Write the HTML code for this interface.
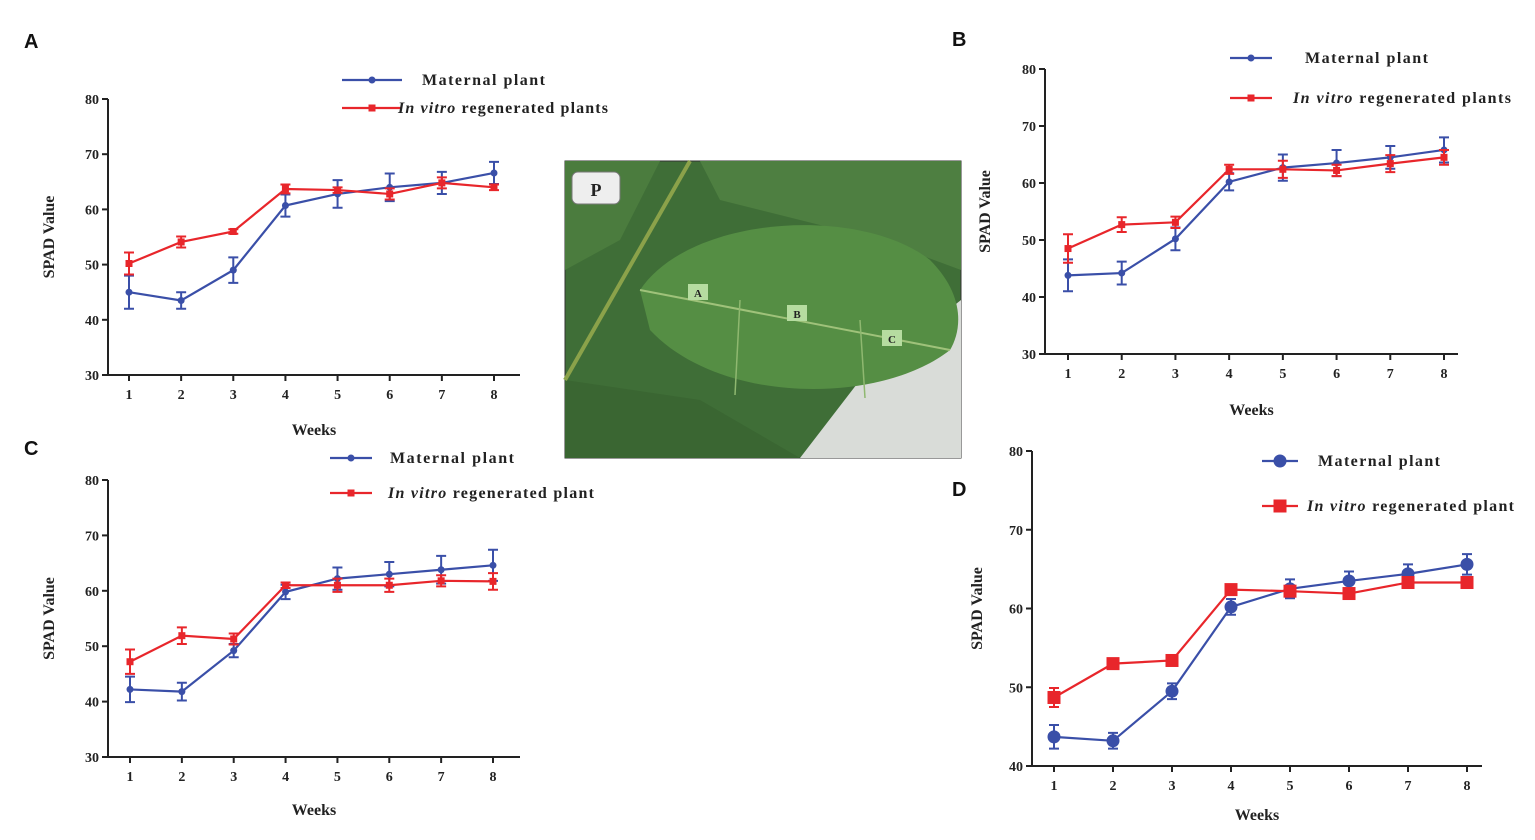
<!DOCTYPE html>
<html><head><meta charset="utf-8"><style>
html,body{margin:0;padding:0;background:#fff;width:1535px;height:840px;overflow:hidden}
svg{display:block}
.t{font-family:"Liberation Serif",serif;font-weight:bold;fill:#222}
.p{font-family:"Liberation Sans",sans-serif;font-weight:bold;font-size:20px;fill:#111}
</style></head><body>
<svg id="fig" width="1535" height="840">
<text class="p" x="24" y="48">A</text>
<text class="p" x="952" y="46">B</text>
<text class="p" x="24" y="455">C</text>
<text class="p" x="952" y="496">D</text>
<g>
<rect x="565" y="161" width="396" height="297" fill="#3f6e37" stroke="#333"/>
<path d="M860 380 L961 300 L961 458 L800 458Z" fill="#d9dcd8"/>
<path d="M700 161 L961 161 L961 270 L880 240 L720 200Z" fill="#4e7f41"/>
<path d="M565 380 L700 400 L800 458 L565 458Z" fill="#3a6632"/>
<path d="M565 161 L660 161 L620 240 L565 270Z" fill="#4b7c3e"/>
<path d="M640 290 C690 215 860 205 930 260 C965 295 962 330 950 350 C880 405 720 405 650 330 Z" fill="#558e44"/>
<path d="M640 290 L950 350" stroke="#9fc27a" stroke-width="2" fill="none"/>
<path d="M740 300 L735 395 M860 320 L865 398" stroke="#8fb870" stroke-width="1.5" fill="none"/>
<path d="M690 161 L565 380" stroke="#8ba24a" stroke-width="4"/>
<rect x="572" y="172" width="48" height="32" rx="6" fill="#eee" stroke="#777"/>
<text x="596" y="196" text-anchor="middle" class="t" font-size="18">P</text>
<rect x="688" y="284" width="20" height="16" fill="#b6dca0"/><text x="698" y="297" text-anchor="middle" class="t" font-size="11">A</text>
<rect x="787" y="305" width="20" height="16" fill="#b6dca0"/><text x="797" y="318" text-anchor="middle" class="t" font-size="11">B</text>
<rect x="882" y="330" width="20" height="16" fill="#b6dca0"/><text x="892" y="343" text-anchor="middle" class="t" font-size="11">C</text>
</g>
</svg>
<script>
const weeks=[1,2,3,4,5,6,7,8];
const aMat=[45,43.5,49,60.7,62.8,64,64.8,66.6];
const aMatErr=[3,1.5,2.3,2,2.5,2.5,2,2];
const aVit=[50.2,54.1,56,63.7,63.5,62.8,64.8,64];
const aVitErr=[2,1,0.4,0.8,0.5,1,1,0.5];
const bMat=[43.8,44.2,50.2,60.2,62.7,63.5,64.5,65.8];
const bMatErr=[2.8,2,2,1.5,2.3,2.3,2,2.2];
const bVit=[48.5,52.7,53.1,62.4,62.4,62.2,63.4,64.5];
const bVitErr=[2.5,1.3,1,0.8,1.5,1,1.5,1.3];
const cMat=[42.2,41.8,49.2,59.8,62.2,63,63.8,64.6];
const cMatErr=[2.3,1.6,1.2,1.3,2,2.2,2.5,2.8];
const cVit=[47.2,51.9,51.3,61,61,61,61.8,61.7];
const cVitErr=[2.2,1.5,1,0.5,1.2,1.2,1,1.5];
const dMat=[43.7,43.2,49.5,60.2,62.5,63.5,64.4,65.6];
const dMatErr=[1.5,1,1,1,1.2,1.2,1.2,1.3];
const dVit=[48.7,53,53.4,62.4,62.2,61.9,63.3,63.3];
const dVitErr=[1.2,0.5,0.5,0.5,0.5,0.5,0.5,0.5];
const yTicksABC=[30,40,50,60,70,80];
const yTicksD=[40,50,60,70,80];
const NS='http://www.w3.org/2000/svg';
const fig=document.getElementById('fig');
function mk(tag,attrs,parent){const e=document.createElementNS(NS,tag);for(const k in attrs)e.setAttribute(k,attrs[k]);(parent||fig).appendChild(e);return e;}
function txt(s,attrs,parent){const e=mk('text',attrs,parent);e.textContent=s;return e;}
function chart(id,cfg){
 const g=mk('g',{});
 
 
 const ymin=cfg.ticks[0],ymax=cfg.ticks[cfg.ticks.length-1];
 const sy=v=>cfg.yB+(v-ymin)/(ymax-ymin)*(cfg.yT-cfg.yB);
 const sx=w=>cfg.x1+(w-1)/7*(cfg.x8-cfg.x1);
 const ax=mk('path',{d:`M${cfg.L} ${cfg.yT} L${cfg.L} ${cfg.yB} L${cfg.R} ${cfg.yB}`,stroke:'#222','stroke-width':2,fill:'none'},g);
 
 
 cfg.ticks.forEach(t=>{const y=sy(t);mk('line',{x1:cfg.L-6,x2:cfg.L,y1:y,y2:y,stroke:'#222','stroke-width':2},g);
  const l=txt(t,{x:cfg.L-9,y:y+5,'text-anchor':'end','font-size':14,class:'t'},g);
  
  });
 weeks.forEach(w=>{const x=sx(w);mk('line',{x1:x,x2:x,y1:cfg.yB,y2:cfg.yB+6,stroke:'#222','stroke-width':2},g);
  const l=txt(w,{x:x,y:cfg.yB+24,'text-anchor':'middle','font-size':14,class:'t'},g);
  
  });
 const xt=txt('Weeks',{x:(cfg.L+cfg.R)/2,y:cfg.wy,'text-anchor':'middle','font-size':16,class:'t'},g);
 
 
 const yc=(cfg.yT+cfg.yB)/2;
 const yt=txt('SPAD Value',{x:cfg.sx,y:yc,'text-anchor':'middle','font-size':16,class:'t',transform:`rotate(-90 ${cfg.sx} ${yc})`},g);
 
 
 const series=[[cfg.mat,cfg.matE,'#3a4fa8','circle'],[cfg.vit,cfg.vitE,'#e8262b','square']];
 series.forEach(([vals,errs,col,shape],si)=>{
  const pts=vals.map((v,i)=>[sx(weeks[i]),sy(v)]);
  vals.forEach((v,i)=>{const x=pts[i][0];const e=mk('path',{d:`M${x} ${sy(v-errs[i])} L${x} ${sy(v+errs[i])} M${x-5} ${sy(v-errs[i])} L${x+5} ${sy(v-errs[i])} M${x-5} ${sy(v+errs[i])} L${x+5} ${sy(v+errs[i])}`,stroke:col,'stroke-width':2,fill:'none'},g);
   
   });
  const ln=mk('polyline',{points:pts.map(p=>p.join(',')).join(' '),stroke:col,'stroke-width':2.2,fill:'none'},g);
  
  
  pts.forEach(p=>{let m;const r=cfg.ms;
   if(shape==='circle')m=mk('circle',{cx:p[0],cy:p[1],r:r,fill:col},g);
   else m=mk('rect',{x:p[0]-r,y:p[1]-r,width:2*r,height:2*r,fill:col},g);
   
   });
 });
 const lg=cfg.leg;
 [[lg.y1,'#3a4fa8','circle',lg.t1x,false,lg.w1],[lg.y2,'#e8262b','square',lg.t2x,true,lg.w2]].forEach(([y,col,shape,tx,vit,w])=>{
  mk('line',{x1:lg.x0,x2:lg.x1,y1:y,y2:y,stroke:col,'stroke-width':2.2},g);
  const cx=(lg.x0+lg.x1)/2,r=lg.r;
  if(shape==='circle')mk('circle',{cx:cx,cy:y,r:r,fill:col},g);else mk('rect',{x:cx-r,y:y-r,width:2*r,height:2*r,fill:col},g);
  const t=txt('',{x:tx,y:y+5,'font-size':16,class:'t',textLength:w,lengthAdjust:'spacing'},g);
  
  
  if(vit){const it=mk('tspan',{'font-style':'italic'},t);it.textContent='In vitro';const r2=mk('tspan',{},t);r2.textContent=' regenerated '+lg.word;}
  else t.textContent='Maternal plant';
 });
}
chart('a',{L:108,R:520,yT:99,yB:375,x1:129,x8:494,ticks:yTicksABC,wy:435,sx:54,mat:aMat,matE:aMatErr,vit:aVit,vitE:aVitErr,ms:3.5,
 leg:{x0:342,x1:402,y1:80,y2:108,t1x:422,t2x:398,r:3.5,word:'plants',w1:123,w2:210}});
chart('b',{L:1045,R:1458,yT:69,yB:354,x1:1068,x8:1444,ticks:yTicksABC,wy:415,sx:990,mat:bMat,matE:bMatErr,vit:bVit,vitE:bVitErr,ms:3.5,
 leg:{x0:1230,x1:1272,y1:58,y2:98,t1x:1305,t2x:1293,r:3.5,word:'plants',w1:123,w2:218}});
chart('c',{L:108,R:520,yT:480,yB:757,x1:130,x8:493,ticks:yTicksABC,wy:815,sx:54,mat:cMat,matE:cMatErr,vit:cVit,vitE:cVitErr,ms:3.5,
 leg:{x0:330,x1:372,y1:458,y2:493,t1x:390,t2x:388,r:3.5,word:'plant',w1:124,w2:206}});
chart('d',{L:1032,R:1482,yT:451,yB:766,x1:1054,x8:1467,ticks:yTicksD,wy:820,sx:982,mat:dMat,matE:dMatErr,vit:dVit,vitE:dVitErr,ms:6.5,
 leg:{x0:1262,x1:1298,y1:461,y2:506,t1x:1318,t2x:1307,r:6.5,word:'plant',w1:122,w2:207}});
</script>
</body></html>
